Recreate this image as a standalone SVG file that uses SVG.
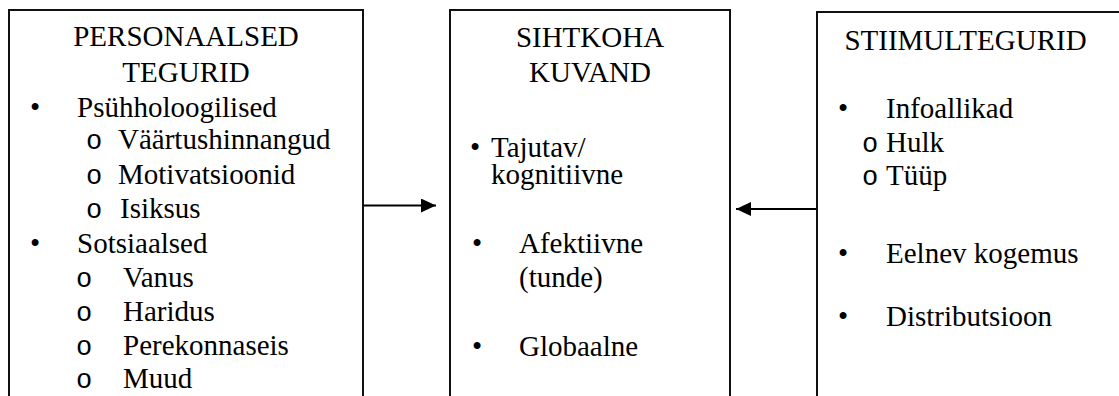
<svg xmlns="http://www.w3.org/2000/svg" width="1119" height="396" viewBox="0 0 1119 396">
<style>
.box{fill:#fff;stroke:#111;stroke-width:2}
.t{font-family:'Liberation Serif','Times New Roman',Tinos,'DejaVu Serif',serif;font-size:29px;fill:#000}
.c{text-anchor:middle}
.o{font-family:'Liberation Mono','Courier New','DejaVu Sans Mono',monospace;font-size:27px;fill:#000}
.conn{stroke:#000;stroke-width:2;fill:none}
</style>
<defs>
<marker id="ah" markerUnits="userSpaceOnUse" markerWidth="16" markerHeight="14" refX="15" refY="7" orient="auto">
<path d="M0,0 L15,7 L0,14 Z" fill="#000"/>
</marker>
</defs>
<rect width="1119" height="396" fill="#fff"/>
<g id="personaalsed">
<rect class="box" x="9" y="10" width="354" height="400"/>
<text class="t c" x="186" y="45.5">PERSONAALSED</text>
<text class="t c" x="186" y="81.5">TEGURID</text>
<text class="t" x="30" y="116.5">•</text>
<text class="t" x="77" y="116.5">Psühholoogilised</text>
<text class="o" x="86" y="149">o</text>
<text class="t" x="118" y="149">Väärtushinnangud</text>
<text class="o" x="86" y="184">o</text>
<text class="t" x="118" y="184">Motivatsioonid</text>
<text class="o" x="86" y="218">o</text>
<text class="t" x="120" y="218">Isiksus</text>
<text class="t" x="30" y="253">•</text>
<text class="t" x="77" y="253">Sotsiaalsed</text>
<text class="o" x="76" y="287">o</text>
<text class="t" x="123" y="287">Vanus</text>
<text class="o" x="76" y="321">o</text>
<text class="t" x="123" y="321">Haridus</text>
<text class="o" x="76" y="355">o</text>
<text class="t" x="123" y="355">Perekonnaseis</text>
<text class="o" x="76" y="388">o</text>
<text class="t" x="123" y="388">Muud</text>
</g>
<g id="sihtkoha">
<rect class="box" x="450" y="10" width="280" height="400"/>
<text class="t c" x="590" y="46.5">SIHTKOHA</text>
<text class="t c" x="590" y="81.5">KUVAND</text>
<text class="t" x="470" y="156.5">•</text>
<text class="t" x="491" y="156.5">Tajutav/</text>
<text class="t" x="491" y="184">kognitiivne</text>
<text class="t" x="472" y="253">•</text>
<text class="t" x="519" y="253">Afektiivne</text>
<text class="t" x="519" y="287">(tunde)</text>
<text class="t" x="472" y="356">•</text>
<text class="t" x="519" y="356">Globaalne</text>
</g>
<g id="stiimul">
<rect class="box" x="817" y="12" width="310" height="400"/>
<text class="t c" x="965.5" y="49.5">STIIMULTEGURID</text>
<text class="t" x="838" y="118">•</text>
<text class="t" x="886" y="118">Infoallikad</text>
<text class="o" x="862" y="152">o</text>
<text class="t" x="886" y="152">Hulk</text>
<text class="o" x="862" y="185">o</text>
<text class="t" x="886" y="185">Tüüp</text>
<text class="t" x="838" y="263">•</text>
<text class="t" x="886" y="263">Eelnev kogemus</text>
<text class="t" x="838" y="326">•</text>
<text class="t" x="886" y="326">Distributsioon</text>
</g>
<g id="connectors">
<line class="conn" x1="364" y1="205.5" x2="436" y2="205.5" marker-end="url(#ah)"/>
<line class="conn" x1="816" y1="209" x2="736" y2="209" marker-end="url(#ah)"/>
</g>
</svg>
